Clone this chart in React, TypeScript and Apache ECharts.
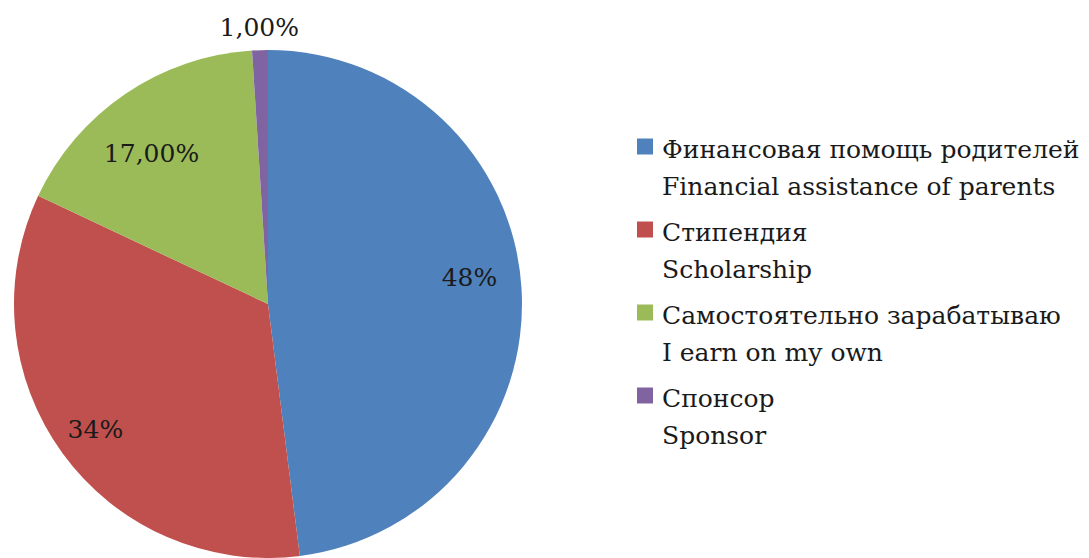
import React, { useEffect, useRef } from "react";
import * as echarts from "echarts";

const categoriesRu = [
  "Финансовая помощь родителей",
  "Стипендия",
  "Самостоятельно зарабатываю",
  "Спонсор",
];
const categoriesEn = [
  "Financial assistance of parents",
  "Scholarship",
  "I earn on my own",
  "Sponsor",
];
const values = [48, 34, 17, 1];
const labelTexts = ["48%", "34%", "17,00%", "1,00%"];
const colors = ["#4F81BD", "#C0504D", "#9BBB59", "#8064A2"];
const labelRadii = [0.8, 0.84, 0.75, 1.09];
const labelAngleShift = [-4, 0, -3.5, 0];

const CX = 268;
const CY = 304;
const R = 254;
const FONT = "DejaVu Serif";

export default function App() {
  const ref = useRef<HTMLDivElement>(null);
  useEffect(() => {
    document.body.style.margin = "0";
    if (!ref.current) return;
    const chart = echarts.init(ref.current, null, { renderer: "svg" });
    const total = values.reduce((a, b) => a + b, 0);
    const option = {
      animation: false,
      backgroundColor: "#ffffff",
      color: colors,
      legend: {
        orient: "vertical",
        left: 637,
        top: 88,
        padding: 0,
        itemGap: -34,
        itemWidth: 16,
        itemHeight: 16,
        icon: "rect",
        selectedMode: false,
        data: categoriesRu,
        formatter: (name: string) => {
          const i = categoriesRu.indexOf(name);
          return "{s| }\n{t|" + name + "}\n{t|" + categoriesEn[i] + "}";
        },
        textStyle: {
          fontFamily: FONT,
          fontSize: 25,
          lineHeight: 37,
          color: "#1a1a1a",
          rich: {
            s: { fontFamily: FONT, fontSize: 25, lineHeight: 43 },
            t: {
              fontFamily: FONT,
              fontSize: 25,
              lineHeight: 37,
              color: "#1a1a1a",
              padding: [0, 0, 0, 4],
            },
          },
        },
      },
      series: [
        {
          type: "pie",
          center: [CX, CY],
          radius: R,
          startAngle: 90,
          clockwise: true,
          silent: true,
          avoidLabelOverlap: false,
          label: {
            show: true,
            position: "inside",
            fontFamily: FONT,
            fontSize: 25,
            color: "#1a1a1a",
            formatter: (p: any) => labelTexts[p.dataIndex],
          },
          labelLine: { show: false },
          labelLayout: (p: any) => {
            const i = p.dataIndex;
            let start = 0;
            for (let j = 0; j < i; j++) start += values[j];
            const mid =
              ((start + values[i] / 2) / total) * Math.PI * 2 +
              (labelAngleShift[i] * Math.PI) / 180;
            const k = labelRadii[i] * R;
            return {
              x: CX + k * Math.sin(mid),
              y: CY - k * Math.cos(mid),
              align: "center",
              verticalAlign: "middle",
            };
          },
          emphasis: { disabled: true },
          data: categoriesRu.map((name, i) => ({ name, value: values[i] })),
        },
      ],
    };
    chart.setOption(option as any);
    return () => chart.dispose();
  }, []);
  return <div ref={ref} style={{ width: 1089, height: 558 }} />;
}
